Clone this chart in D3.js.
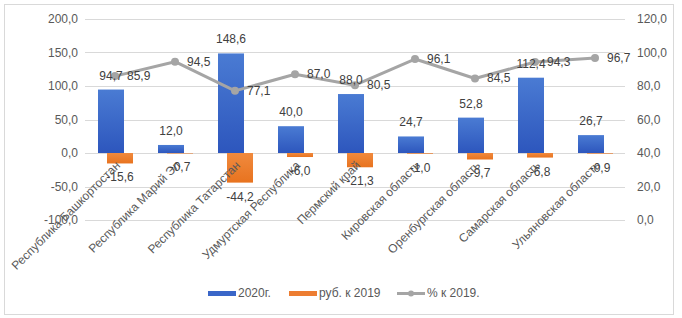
<!DOCTYPE html>
<html>
<head>
<meta charset="utf-8">
<script src="https://cdn.jsdelivr.net/npm/d3@7"></script>
<style>
  body { margin: 0; background: #fff; }
  text { font-family: "Liberation Sans", Arial, sans-serif; }
</style>
</head>
<body>
<div id="chart"></div>
<script>
// data
var regions = ["Республика Башкортостан", "Республика Марий Эл", "Республика Татарстан",
  "Удмуртская Республика", "Пермский край", "Кировская область",
  "Оренбургская область", "Самарская область", "Ульяновская область"];
var val2020 = [94.7, 12.0, 148.6, 40.0, 88.0, 24.7, 52.8, 112.4, 26.7];
var rubVs2019 = [-15.6, -0.7, -44.2, -6.0, -21.3, -1.0, -9.7, -6.8, -0.9];
var pctVs2019 = [85.9, 94.5, 77.1, 87.0, 80.5, 96.1, 84.5, 94.3, 96.7];
var leftTicks = [-100, -50, 0, 50, 100, 150, 200];
var rightTicks = [0, 20, 40, 60, 80, 100, 120];
var seriesNames = ["2020г.", "руб. к 2019", "% к 2019."];

var W = 682, H = 318;
var fmt = function(v) { return d3.format(".1f")(v).replace(".", ",").replace("\u2212", "-"); };

var svg = d3.select("#chart").append("svg")
  .attr("width", W).attr("height", H);

// gradients for the bars
var defs = svg.append("defs");
var gBlue = defs.append("linearGradient").attr("id", "gBlue")
  .attr("x1", 0).attr("y1", 0).attr("x2", 0).attr("y2", 1);
gBlue.append("stop").attr("offset", "0%").attr("stop-color", "#4a7bd3");
gBlue.append("stop").attr("offset", "100%").attr("stop-color", "#2d56bd");
var gOrange = defs.append("linearGradient").attr("id", "gOrange")
  .attr("x1", 0).attr("y1", 0).attr("x2", 0).attr("y2", 1);
gOrange.append("stop").attr("offset", "0%").attr("stop-color", "#f08a3e");
gOrange.append("stop").attr("offset", "100%").attr("stop-color", "#e8731f");

// chart border
svg.append("rect")
  .attr("x", 4.5).attr("y", 4.5).attr("width", 669).attr("height", 310)
  .attr("fill", "none").attr("stroke", "#d9d9d9");

// scales
var x = d3.scaleBand().domain(regions).range([85, 625]).padding(0);
var yL = d3.scaleLinear().domain([-100, 200]).range([220, 19]);
var yR = d3.scaleLinear().domain([0, 120]).range([220, 19]);
var cx = function(i) { return x(regions[i]) + x.bandwidth() / 2; };

// gridlines
svg.append("g").selectAll("line")
  .data(leftTicks).enter().append("line")
  .attr("x1", 85).attr("x2", 625)
  .attr("y1", function(d) { return Math.round(yL(d)) + 0.5; })
  .attr("y2", function(d) { return Math.round(yL(d)) + 0.5; })
  .attr("stroke", "#d9d9d9");

// left axis
var axL = svg.append("g")
  .attr("transform", "translate(78,0)")
  .call(d3.axisLeft(yL).tickValues(leftTicks).tickFormat(fmt).tickSize(0).tickPadding(0));
axL.select(".domain").remove();
axL.selectAll("text").attr("fill", "#595959").style("font-size", "12px");

// right axis
var axR = svg.append("g")
  .attr("transform", "translate(637,0)")
  .call(d3.axisRight(yR).tickValues(rightTicks).tickFormat(fmt).tickSize(0).tickPadding(0));
axR.select(".domain").remove();
axR.selectAll("text").attr("fill", "#595959").style("font-size", "12px");

var barW = 26;

// blue bars
svg.append("g").selectAll("rect")
  .data(val2020).enter().append("rect")
  .attr("x", function(d, i) { return cx(i) - 17; })
  .attr("y", function(d) { return yL(d); })
  .attr("width", barW)
  .attr("height", function(d) { return yL(0) - yL(d); })
  .attr("fill", "url(#gBlue)");

// orange bars
svg.append("g").selectAll("rect")
  .data(rubVs2019).enter().append("rect")
  .attr("x", function(d, i) { return cx(i) - 8; })
  .attr("y", yL(0))
  .attr("width", barW)
  .attr("height", function(d) { return yL(d) - yL(0); })
  .attr("fill", "url(#gOrange)");

// category labels, at the zero line
svg.append("g").selectAll("text")
  .data(regions).enter().append("text")
  .attr("transform", function(d, i) {
    return "translate(" + (cx(i) + 6) + "," + 166 + ") rotate(-45)";
  })
  .attr("text-anchor", "end")
  .attr("fill", "#595959")
  .style("font-size", "12px")
  .text(function(d) { return d; });

// line
var line = d3.line()
  .x(function(d, i) { return cx(i); })
  .y(function(d) { return yR(d); });
svg.append("path")
  .datum(pctVs2019)
  .attr("d", line)
  .attr("fill", "none")
  .attr("stroke", "#a5a5a5")
  .attr("stroke-width", 3)
  .attr("stroke-linejoin", "round");
svg.append("g").selectAll("circle")
  .data(pctVs2019).enter().append("circle")
  .attr("cx", function(d, i) { return cx(i); })
  .attr("cy", function(d) { return yR(d); })
  .attr("r", 4)
  .attr("fill", "#a5a5a5");

// data labels
var labels = svg.append("g").attr("fill", "#404040").style("font-size", "12px");
labels.selectAll(".lb").data(val2020).enter().append("text")
  .attr("x", function(d, i) { return cx(i) - 4; })
  .attr("y", function(d) { return yL(d) - 10; })
  .attr("text-anchor", "middle")
  .text(fmt);
labels.selectAll(".lo").data(rubVs2019).enter().append("text")
  .attr("x", function(d, i) { return cx(i) + 5; })
  .attr("y", function(d) { return yL(d) + 18; })
  .attr("text-anchor", "middle")
  .text(fmt);
labels.selectAll(".lp").data(pctVs2019).enter().append("text")
  .attr("x", function(d, i) { return cx(i) + 12; })
  .attr("y", function(d) { return yR(d) + 4; })
  .text(fmt);

// legend
var leg = svg.append("g").style("font-size", "12px").attr("fill", "#595959");
leg.append("rect").attr("x", 208).attr("y", 291).attr("width", 28).attr("height", 5).attr("fill", "#3a66c8");
leg.append("text").attr("x", 238).attr("y", 297).text(seriesNames[0]);
leg.append("rect").attr("x", 289).attr("y", 291).attr("width", 28).attr("height", 5).attr("fill", "#ed7d31");
leg.append("text").attr("x", 319).attr("y", 297).text(seriesNames[1]);
leg.append("line").attr("x1", 397).attr("x2", 425).attr("y1", 293.5).attr("y2", 293.5)
  .attr("stroke", "#a5a5a5").attr("stroke-width", 3);
leg.append("circle").attr("cx", 411).attr("cy", 293.5).attr("r", 3).attr("fill", "#a5a5a5");
leg.append("text").attr("x", 427).attr("y", 297).text(seriesNames[2]);
</script>
</body>
</html>
